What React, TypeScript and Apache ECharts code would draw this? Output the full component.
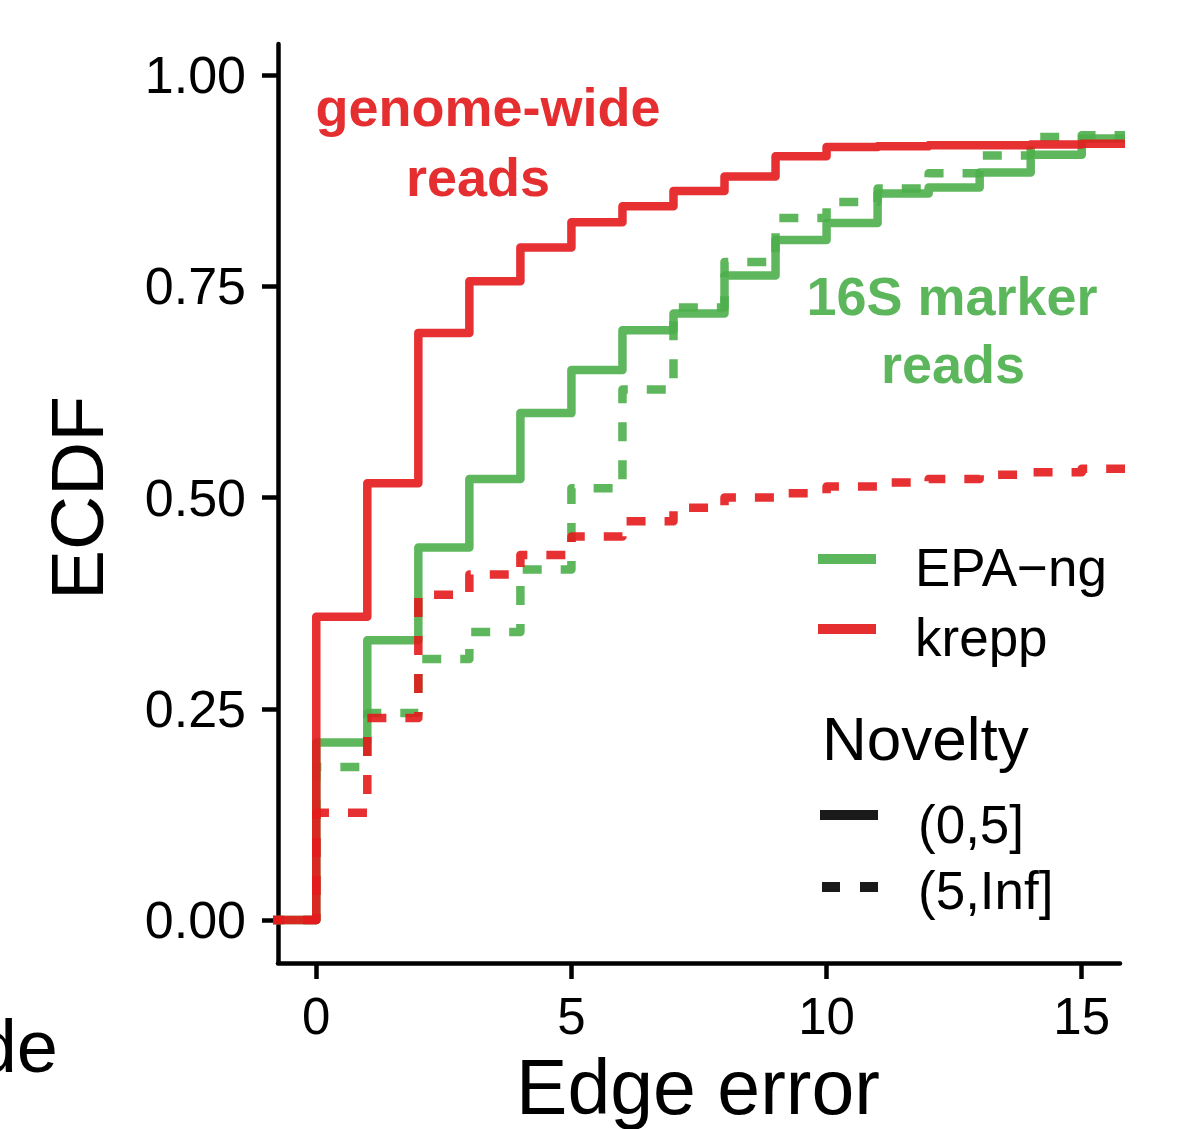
import React, { useEffect, useRef } from "react";
import * as echarts from "echarts";

// Edge error values at which the ECDF steps
const edgeError = [0, 1, 2, 3, 4, 5, 6, 7, 8, 9, 10, 11, 12, 13, 14, 15];

// ECDF values (value holding from each edge error onward)
const kreppNovelLow = [0.359, 0.517, 0.695, 0.756, 0.796, 0.826, 0.845, 0.863, 0.880, 0.904, 0.915, 0.916, 0.917, 0.917, 0.918, 0.919];
const kreppNovelHigh = [0.127, 0.239, 0.385, 0.409, 0.432, 0.454, 0.472, 0.488, 0.500, 0.505, 0.513, 0.518, 0.522, 0.527, 0.530, 0.534];
const epaNovelLow = [0.210, 0.331, 0.441, 0.522, 0.600, 0.651, 0.698, 0.718, 0.763, 0.805, 0.825, 0.860, 0.867, 0.885, 0.906, 0.925];
const epaNovelHigh = [0.181, 0.245, 0.309, 0.341, 0.415, 0.511, 0.628, 0.725, 0.779, 0.831, 0.850, 0.866, 0.884, 0.905, 0.927, 0.929];

const xTicks = [0, 5, 10, 15];
const yTicks = [0, 0.25, 0.5, 0.75, 1.0];

const RED = "#E41A1C";
const GREEN = "#4DAF4A";
const FONT = "'Liberation Sans', Arial, Helvetica, sans-serif";

function stepData(vals: number[]) {
  const pts: number[][] = [[-1, 0]];
  edgeError.forEach((x, i) => pts.push([x, vals[i]]));
  pts.push([16, vals[vals.length - 1]]);
  return pts;
}

function makeSeries(name: string, vals: number[], color: string, dashed: boolean) {
  return {
    name,
    type: "line",
    step: "end",
    data: stepData(vals),
    showSymbol: false,
    symbol: "none",
    clip: true,
    lineStyle: {
      color,
      width: 8.5,
      opacity: 0.9,
      type: dashed ? [19, 19] : "solid",
      cap: "butt",
      join: "round",
    },
    emphasis: { disabled: true },
    silent: true,
  };
}

export default function App() {
  const ref = useRef<HTMLDivElement>(null);
  useEffect(() => {
    if (!ref.current) return;
    const chart = echarts.init(ref.current, undefined, { renderer: "svg" });
    const txt = (text: string, x: number, y: number, size: number, opts: any = {}) => ({
      type: "text",
      x,
      y,
      rotation: opts.rotation || 0,
      silent: true,
      style: {
        text,
        fontSize: size,
        fontFamily: FONT,
        fontWeight: opts.weight || "normal",
        fill: opts.fill || "#000",
        align: opts.align || "left",
        verticalAlign: "middle",
      },
    });
    const seg = (x1: number, x2: number, y: number, color: string, dash?: number[]) => ({
      type: "line",
      silent: true,
      shape: { x1, y1: y, x2, y2: y },
      style: { stroke: color, lineWidth: 10, lineDash: dash || null, lineCap: "butt" },
    });
    chart.setOption({
      animation: false,
      grid: { left: 278, top: 44, right: 76, bottom: 166, containLabel: false },
      xAxis: {
        type: "value",
        min: -0.75,
        max: 15.75,
        axisLine: { show: true, onZero: false, lineStyle: { color: "#000", width: 4.5 } },
        axisTick: { show: true, length: 16, lineStyle: { color: "#000", width: 4.5 }, customValues: xTicks },
        axisLabel: {
          show: true,
          customValues: xTicks,
          margin: 28,
          fontSize: 51,
          fontFamily: FONT,
          color: "#000",
          formatter: (v: number) => String(v),
        },
        splitLine: { show: false },
      },
      yAxis: {
        type: "value",
        min: -0.051,
        max: 1.037,
        axisLine: { show: true, onZero: false, lineStyle: { color: "#000", width: 4.5 } },
        axisTick: { show: true, length: 16, lineStyle: { color: "#000", width: 4.5 }, customValues: yTicks },
        axisLabel: {
          show: true,
          customValues: yTicks,
          margin: 32,
          fontSize: 52,
          fontFamily: FONT,
          color: "#000",
          formatter: (v: number) => v.toFixed(2),
        },
        splitLine: { show: false },
      },
      series: [
        makeSeries("EPA-ng (0,5]", epaNovelLow, GREEN, false),
        makeSeries("EPA-ng (5,Inf]", epaNovelHigh, GREEN, true),
        makeSeries("krepp (0,5]", kreppNovelLow, RED, false),
        makeSeries("krepp (5,Inf]", kreppNovelHigh, RED, true),
      ],
      graphic: [
        txt("genome-wide", 488, 107, 54, { weight: "bold", fill: "#E52E30", align: "center" }),
        txt("reads", 478, 177, 54, { weight: "bold", fill: "#E52E30", align: "center" }),
        txt("16S marker", 952, 296, 54, { weight: "bold", fill: "#5CB65B", align: "center" }),
        txt("reads", 953, 364, 54, { weight: "bold", fill: "#5CB65B", align: "center" }),
        txt("Edge error", 698, 1087, 77, { align: "center" }),
        txt("ECDF", 77, 498, 75, { align: "center", rotation: Math.PI / 2 }),
        txt("de", 58, 1046, 74, { align: "right" }),
        seg(818, 876, 559, "#5CB65B"),
        txt("EPA\u2212ng", 915, 567, 53),
        seg(818, 876, 629, "#E52E30"),
        txt("krepp", 915, 637, 53),
        txt("Novelty", 822, 738, 62),
        seg(820, 878, 815, "#1a1a1a"),
        txt("(0,5]", 918, 824, 53),
        seg(822, 878, 887, "#1a1a1a", [18, 20]),
        txt("(5,Inf]", 918, 890, 53),
      ],
    });
    return () => chart.dispose();
  }, []);
  return (
    <div
      ref={ref}
      style={{ position: "absolute", left: 0, top: 0, width: 1196, height: 1129, background: "#fff" }}
    />
  );
}
